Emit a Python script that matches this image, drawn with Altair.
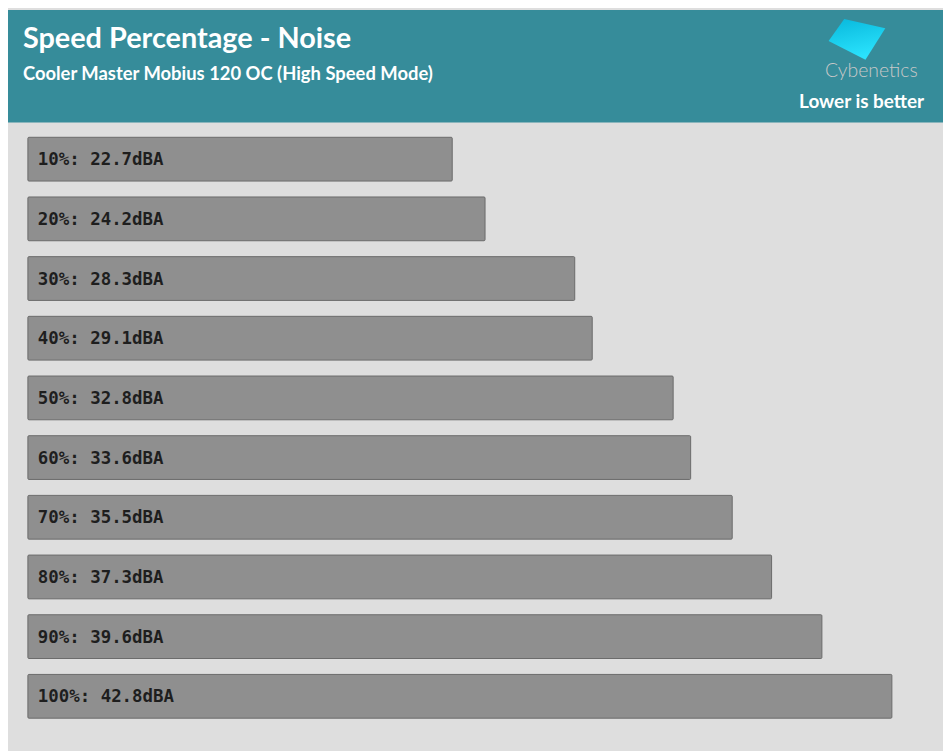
import altair as alt
import pandas as pd

speeds = ["10%", "20%", "30%", "40%", "50%", "60%", "70%", "80%", "90%", "100%"]
noise = [22.7, 24.2, 28.3, 29.1, 32.8, 33.6, 35.5, 37.3, 39.6, 42.8]
labels = [f"{s}: {v}dBA" for s, v in zip(speeds, noise)]

TITLE = "Speed Percentage - Noise"
SUBTITLE = "Cooler Master Mobius 120 OC (High Speed Mode)"
NOTE = "Lower is better"
BRAND = "Cybenetics"

W, H = 940, 743
df = pd.DataFrame({"speed": speeds, "noise": noise, "label": labels})
one = lambda t: pd.DataFrame({"t": [t]})

yscale = alt.Scale(domain=speeds, range=[120, 720], paddingInner=0.2667, paddingOuter=0.1333)
xscale = alt.Scale(domain=[3.3, 44], range=[20, 915], zero=False, nice=False)

header = alt.Chart(one("h")).mark_rect(color="#368c9a").encode(
    x=alt.value(0), x2=alt.value(W), y=alt.value(0), y2=alt.value(113)
)

bars = alt.Chart(df).mark_bar(
    color="#8f8f8f", stroke="#6b6b6b", strokeWidth=1, cornerRadius=1
).encode(
    y=alt.Y("speed:N", scale=yscale, axis=None, sort=speeds),
    x=alt.X("noise:Q", scale=xscale, axis=None),
    x2=alt.datum(3.3),
)

text = alt.Chart(df).mark_text(
    align="left", baseline="middle", font="DejaVu Sans Mono", fontWeight="bold",
    fontSize=17.5, color="#1e1e1e", dy=1
).encode(
    y=alt.Y("speed:N", scale=yscale, axis=None, sort=speeds),
    x=alt.value(30),
    text="label:N",
)

title = alt.Chart(one(TITLE)).mark_text(
    align="left", baseline="alphabetic", font="Lato", fontWeight="bold",
    fontSize=29, color="white"
).encode(x=alt.value(15), y=alt.value(38), text="t:N")

subtitle = alt.Chart(one(SUBTITLE)).mark_text(
    align="left", baseline="alphabetic", font="Lato", fontWeight="bold",
    fontSize=18.5, color="white"
).encode(x=alt.value(15), y=alt.value(70), text="t:N")

note = alt.Chart(one(NOTE)).mark_text(
    align="right", baseline="alphabetic", font="Lato", fontWeight="bold",
    fontSize=19, color="white"
).encode(x=alt.value(921), y=alt.value(99), text="t:N")

brand = alt.Chart(one(BRAND)).mark_text(
    align="center", baseline="alphabetic", font="Lato", fontWeight=300,
    fontSize=19.5, color="#c8c8c8"
).encode(x=alt.value(868), y=alt.value(67), text="t:N")

logo = alt.Chart(one("logo")).mark_point(
    shape="M -0.45 -0.72 L 1 -0.4 L 0.3 0.71 L -1 0.05 Z",
    filled=True, opacity=1, strokeWidth=0, size=3249,
    fill=alt.Gradient(
        gradient="linear", x1=0, y1=0, x2=0.3, y2=1,
        stops=[alt.GradientStop(color="#08b8dc", offset=0),
               alt.GradientStop(color="#2ae2fc", offset=1)],
    ),
).encode(x=alt.value(853.5), y=alt.value(29.7))

chart = alt.layer(header, bars, text, title, subtitle, note, brand, logo).properties(
    width=W, height=H, padding=0, autosize=alt.AutoSizeParams(type="none")
).configure(background="#dedede").configure_view(stroke=None)

chart.save("out.html", embed_options={"renderer": "svg", "actions": False})
